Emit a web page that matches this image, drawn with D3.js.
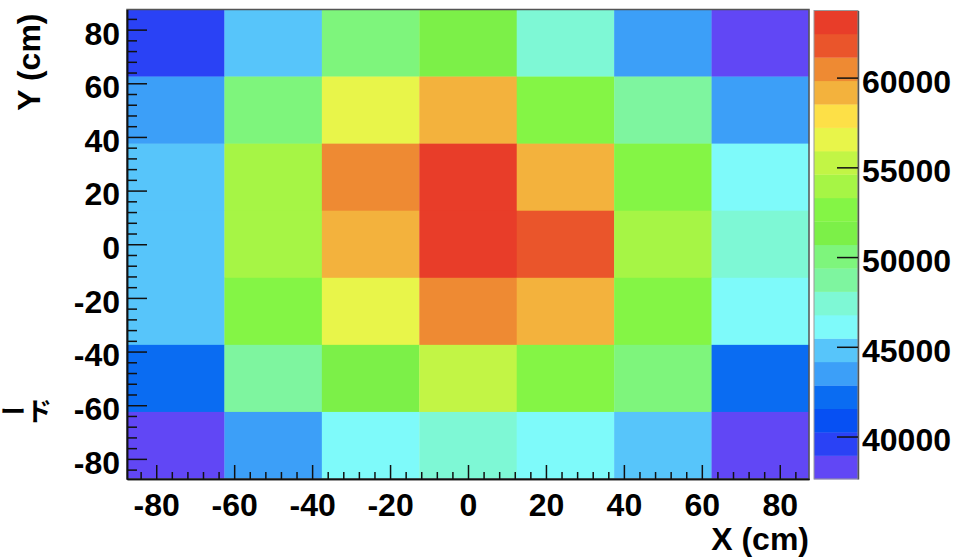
<!DOCTYPE html>
<html>
<head>
<meta charset="utf-8">
<script src="https://cdn.jsdelivr.net/npm/d3@7"></script>
<style>
  html, body { margin: 0; padding: 0; background: #fff; }
  #wrap { position: relative; width: 967px; height: 557px; overflow: hidden; }
  svg { display: block; }
  #side { position: absolute; left: 0px; top: 397px; font-family: "Noto Sans CJK JP", "Noto Sans CJK SC", sans-serif;
          font-weight: bold; font-size: 26px; line-height: 1; color: #000; white-space: nowrap;
          writing-mode: horizontal-tb; text-orientation: mixed; font-feature-settings: "vert" 0, "vrt2" 0; }
</style>
</head>
<body>
<div id="wrap">
<svg id="chart" width="967" height="557"></svg>
<div id="side"></div>
</div>
<script>
// ---- data ----
const xBins = [-75, -50, -25, 0, 25, 50, 75];          // bin centres (cm)
const yBins = [75, 50, 25, 0, -25, -50, -75];          // bin centres (cm), rows top → bottom
const binWidth = 25;
const counts = [
  [39600, 44800, 50100, 51300, 47400, 43500, 38200],
  [43400, 49900, 56500, 59100, 52600, 48700, 43600],
  [44900, 53900, 60400, 63100, 59300, 52500, 46100],
  [44700, 54000, 59200, 63740, 61800, 53800, 47300],
  [44800, 52700, 56600, 60500, 59000, 52400, 46000],
  [42200, 48800, 51400, 55200, 52800, 50000, 42100],
  [37633, 43300, 46200, 47500, 46000, 44900, 38300]
];
const axisMajorTicks = [-80, -60, -40, -20, 0, 20, 40, 60, 80];
const zTicks = [40000, 45000, 50000, 55000, 60000];
const palette = [
  "#6147f5", "#2a42f5", "#0650f3", "#0a6cf2", "#3c9ff8",
  "#57c5fa", "#7efafa", "#7ef8d5", "#7ef59f", "#7ef57c",
  "#7cf048", "#84f545", "#a6f545", "#c2f545", "#e8f54a",
  "#fde047", "#f3b23d", "#ee8a33", "#ea552b", "#e83d29"
];
const xTitle = "X (cm)";
const yTitle = "Y (cm)";
const sideText = "ード";

// ---- layout ----
const svg = d3.select("#chart");
const F = { left: 127, right: 809, top: 9.5, bottom: 479 };
const CB = { left: 814, right: 858 };
const LATIN = "'Liberation Sans', Arial, sans-serif";

const allVals = counts.flat();
const zMin = d3.min(allVals), zMax = d3.max(allVals);

const x = d3.scaleLinear().domain([-87.5, 87.5]).range([F.left, F.right]);
const y = d3.scaleLinear().domain([-87.5, 87.5]).range([F.bottom, F.top]);
const color = d3.scaleQuantize().domain([zMin, zMax]).range(palette);

const minorTicks = d3.range(-84, 85, 4).filter(v => v % 20 !== 0);

// cells
const cells = [];
yBins.forEach((yc, i) => xBins.forEach((xc, j) => cells.push({ xc, yc, v: counts[i][j] })));
svg.append("g").selectAll("rect").data(cells).join("rect")
  .attr("x", d => x(d.xc - binWidth / 2))
  .attr("y", d => y(d.yc + binWidth / 2))
  .attr("width", d => x(d.xc + binWidth / 2) - x(d.xc - binWidth / 2) + 0.3)
  .attr("height", d => y(d.yc - binWidth / 2) - y(d.yc + binWidth / 2) + 0.3)
  .attr("fill", d => color(d.v));

// frame
svg.append("rect")
  .attr("x", F.left).attr("y", F.top)
  .attr("width", F.right - F.left).attr("height", F.bottom - F.top)
  .attr("fill", "none").attr("stroke", "#555").attr("stroke-width", 1.5);

const fmt = d => String(d);

// X axis
const gx = svg.append("g").attr("transform", `translate(0,${F.bottom})`);
gx.call(d3.axisBottom(x).tickValues(axisMajorTicks).tickFormat(fmt)
  .tickSizeInner(-14).tickSizeOuter(0).tickPadding(14));
const gxm = svg.append("g").attr("transform", `translate(0,${F.bottom})`);
gxm.call(d3.axisBottom(x).tickValues(minorTicks).tickFormat("")
  .tickSizeInner(-7).tickSizeOuter(0));

// Y axis
const gy = svg.append("g").attr("transform", `translate(${F.left},0)`);
gy.call(d3.axisLeft(y).tickValues(axisMajorTicks).tickFormat(fmt)
  .tickSizeInner(-20).tickSizeOuter(0).tickPadding(7));
const gym = svg.append("g").attr("transform", `translate(${F.left},0)`);
gym.call(d3.axisLeft(y).tickValues(minorTicks).tickFormat("")
  .tickSizeInner(-10).tickSizeOuter(0));

[gx, gxm, gy, gym].forEach(g => {
  g.selectAll(".domain").attr("stroke", "#111").attr("stroke-width", 1.5);
  g.selectAll(".tick line").attr("stroke", "#111").attr("stroke-width", 1.5);
  g.selectAll("text").attr("font-size", 32).attr("fill", "#000")
    .attr("font-family", LATIN).attr("font-weight", "bold");
});
gy.selectAll("text").attr("dy", "0.45em");

// colour bar
const z = d3.scaleLinear().domain([zMin, zMax]).range([F.bottom, F.top + 1]);
const step = (zMax - zMin) / palette.length;
svg.append("g").selectAll("rect").data(palette).join("rect")
  .attr("x", CB.left)
  .attr("y", (c, i) => z(zMin + (i + 1) * step))
  .attr("width", CB.right - CB.left)
  .attr("height", (c, i) => z(zMin + i * step) - z(zMin + (i + 1) * step) + 0.3)
  .attr("fill", c => c);
svg.append("rect")
  .attr("x", CB.left).attr("y", z(zMax))
  .attr("width", CB.right - CB.left).attr("height", z(zMin) - z(zMax))
  .attr("fill", "none").attr("stroke", "#999").attr("stroke-width", 1);

const gz = svg.append("g").attr("transform", `translate(${CB.right},0)`);
gz.call(d3.axisRight(z).tickValues(zTicks).tickFormat(fmt)
  .tickSizeInner(-21).tickSizeOuter(0).tickPadding(4));
gz.selectAll(".domain").attr("stroke", "#555").attr("stroke-width", 1.5);
gz.selectAll(".tick line").attr("stroke", "#111").attr("stroke-width", 1.5);
gz.selectAll("text").attr("font-size", 32).attr("dy", "0.45em").attr("fill", "#000")
  .attr("font-family", LATIN).attr("font-weight", "bold");

// titles
svg.append("text")
  .attr("x", F.right).attr("y", 550)
  .attr("text-anchor", "end").attr("font-size", 32)
  .attr("font-family", LATIN).attr("font-weight", "bold")
  .text(xTitle);
svg.append("text")
  .attr("transform", `translate(40,${F.top + 4}) rotate(-90)`)
  .attr("text-anchor", "end").attr("font-size", 32)
  .attr("font-family", LATIN).attr("font-weight", "bold")
  .text(yTitle);
d3.select("#side").text(sideText);
</script>
</body>
</html>
